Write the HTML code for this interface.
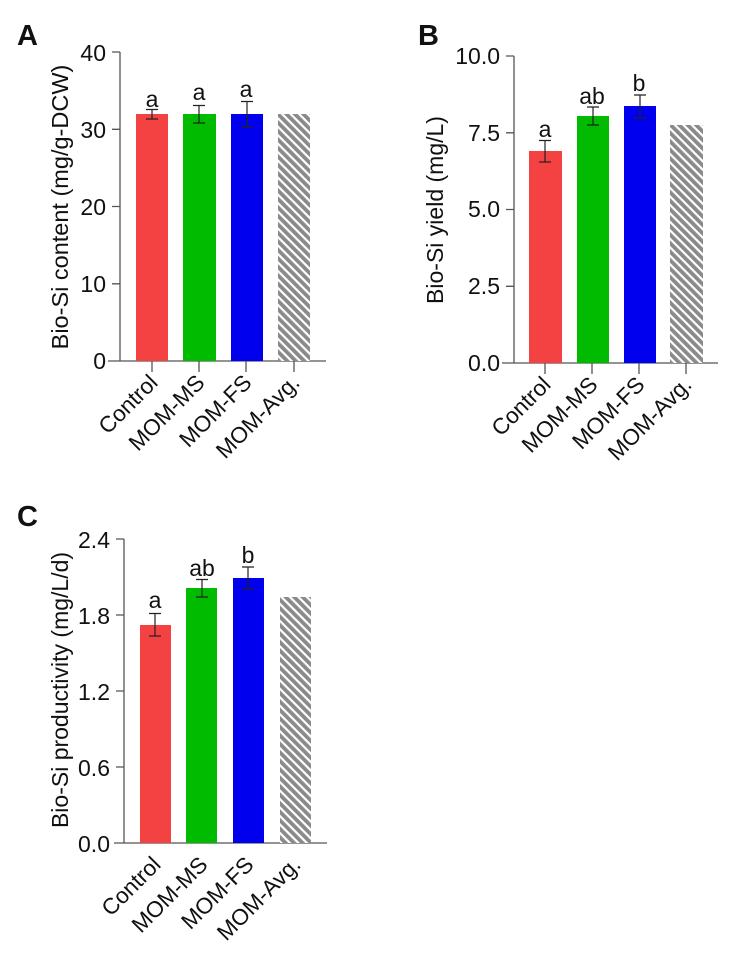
<!DOCTYPE html>
<html><head><meta charset="utf-8"><style>
html,body{margin:0;padding:0;background:#fff;}
svg{display:block;font-family:"Liberation Sans",sans-serif;}
</style></head><body>
<svg width="734" height="963" viewBox="0 0 734 963" xmlns="http://www.w3.org/2000/svg">
<defs>
<pattern id="h" patternUnits="userSpaceOnUse" width="6" height="6" patternTransform="rotate(45)">
<rect width="6" height="6" fill="#8a8a8a"/><rect width="6" height="2.2" fill="#fff"/>
</pattern>
</defs>
<g fill="#111">
<text x="17" y="45" font-size="29" font-weight="bold">A</text>
<text x="418" y="45" font-size="29" font-weight="bold">B</text>
<text x="17" y="526" font-size="29" font-weight="bold">C</text>
</g>

<!-- Panel A -->
<g stroke="#555" stroke-width="1.3" fill="none">
<path d="M120 52 V361 M108 361 H326 M112 52 H120 M112 129.3 H120 M112 206.5 H120 M112 283.8 H120"/>
<path d="M152 361 V372 M199 361 V372 M246 361 V372 M294 361 V372"/>
</g>
<g font-size="23" text-anchor="end" fill="#111">
<text x="106" y="61">40</text><text x="106" y="138">30</text><text x="106" y="215">20</text><text x="106" y="292">10</text><text x="106" y="369">0</text>
</g>
<rect x="136" y="114" width="32" height="247" fill="#f44242"/>
<rect x="183" y="114" width="33" height="247" fill="#00bb00"/>
<rect x="231" y="114" width="32" height="247" fill="#0000ee"/>
<rect x="278" y="114" width="32" height="247" fill="url(#h)"/>
<g stroke="#222" stroke-width="1.2">
<path d="M152 109.5 V119 M146 109.5 H158 M146 119 H158"/>
<path d="M199 105.5 V123 M193 105.5 H205 M193 123 H205"/>
<path d="M247 101.5 V127 M241 101.5 H253 M241 127 H253"/>
</g>
<g font-size="23" text-anchor="middle" fill="#111">
<text x="152" y="107">a</text><text x="199" y="100">a</text><text x="246" y="97">a</text>
</g>
<text transform="translate(68,207) rotate(-90)" font-size="23.5" text-anchor="middle" fill="#111">Bio-Si content (mg/g-DCW)</text>
<g font-size="22.5" text-anchor="end" fill="#111">
<text transform="translate(159,384) rotate(-45)">Control</text>
<text transform="translate(206,384) rotate(-45)">MOM-MS</text>
<text transform="translate(253,384) rotate(-45)">MOM-FS</text>
<text transform="translate(301,384) rotate(-45)">MOM-Avg.</text>
</g>

<!-- Panel B -->
<g stroke="#555" stroke-width="1.3" fill="none">
<path d="M514 56 V363 M502 363 H718 M506 56 H514 M506 132.8 H514 M506 209.5 H514 M506 286.3 H514"/>
<path d="M545 363 V374 M592 363 V374 M639 363 V374 M686 363 V374"/>
</g>
<g font-size="23" text-anchor="end" fill="#111">
<text x="500" y="64">10.0</text><text x="500" y="141">7.5</text><text x="500" y="217">5.0</text><text x="500" y="294">2.5</text><text x="500" y="371">0.0</text>
</g>
<rect x="529" y="151" width="33" height="212" fill="#f44242"/>
<rect x="577" y="116" width="32" height="247" fill="#00bb00"/>
<rect x="624" y="106" width="32" height="257" fill="#0000ee"/>
<rect x="670" y="125" width="33" height="238" fill="url(#h)"/>
<g stroke="#222" stroke-width="1.2">
<path d="M545 140.5 V162 M539 140.5 H551 M539 162 H551"/>
<path d="M593 107 V125 M587 107 H599 M587 125 H599"/>
<path d="M640 95 V118 M634 95 H646 M634 118 H646"/>
</g>
<g font-size="23" text-anchor="middle" fill="#111">
<text x="545" y="137">a</text><text x="592" y="104">ab</text><text x="639" y="91">b</text>
</g>
<text transform="translate(443,210) rotate(-90)" font-size="23" text-anchor="middle" fill="#111">Bio-Si yield (mg/L)</text>
<g font-size="22.5" text-anchor="end" fill="#111">
<text transform="translate(552,386) rotate(-45)">Control</text>
<text transform="translate(599,386) rotate(-45)">MOM-MS</text>
<text transform="translate(646,386) rotate(-45)">MOM-FS</text>
<text transform="translate(693,386) rotate(-45)">MOM-Avg.</text>
</g>

<!-- Panel C -->
<g stroke="#555" stroke-width="1.3" fill="none">
<path d="M124 539 V843 M114 843 H327 M116 539 H124 M116 615 H124 M116 691 H124 M116 767 H124"/>
</g>
<g font-size="23" text-anchor="end" fill="#111">
<text x="110" y="548">2.4</text><text x="110" y="624">1.8</text><text x="110" y="700">1.2</text><text x="110" y="776">0.6</text><text x="110" y="852">0.0</text>
</g>
<rect x="140" y="625" width="31" height="218" fill="#f44242"/>
<rect x="186" y="588" width="31" height="255" fill="#00bb00"/>
<rect x="233" y="578" width="31" height="265" fill="#0000ee"/>
<rect x="280" y="597" width="31" height="246" fill="url(#h)"/>
<g stroke="#222" stroke-width="1.2">
<path d="M155 613.5 V636 M149 613.5 H161 M149 636 H161"/>
<path d="M202 579.5 V597 M196 579.5 H208 M196 597 H208"/>
<path d="M248 567 V589 M242 567 H254 M242 589 H254"/>
</g>
<g font-size="23" text-anchor="middle" fill="#111">
<text x="155" y="608">a</text><text x="202" y="576">ab</text><text x="248" y="563">b</text>
</g>
<text transform="translate(68,690) rotate(-90)" font-size="23" text-anchor="middle" fill="#111">Bio-Si productivity (mg/L/d)</text>
<g font-size="22.5" text-anchor="end" fill="#111">
<text transform="translate(162,866) rotate(-45)">Control</text>
<text transform="translate(209,866) rotate(-45)">MOM-MS</text>
<text transform="translate(255,866) rotate(-45)">MOM-FS</text>
<text transform="translate(302,866) rotate(-45)">MOM-Avg.</text>
</g>
</svg>
</body></html>
